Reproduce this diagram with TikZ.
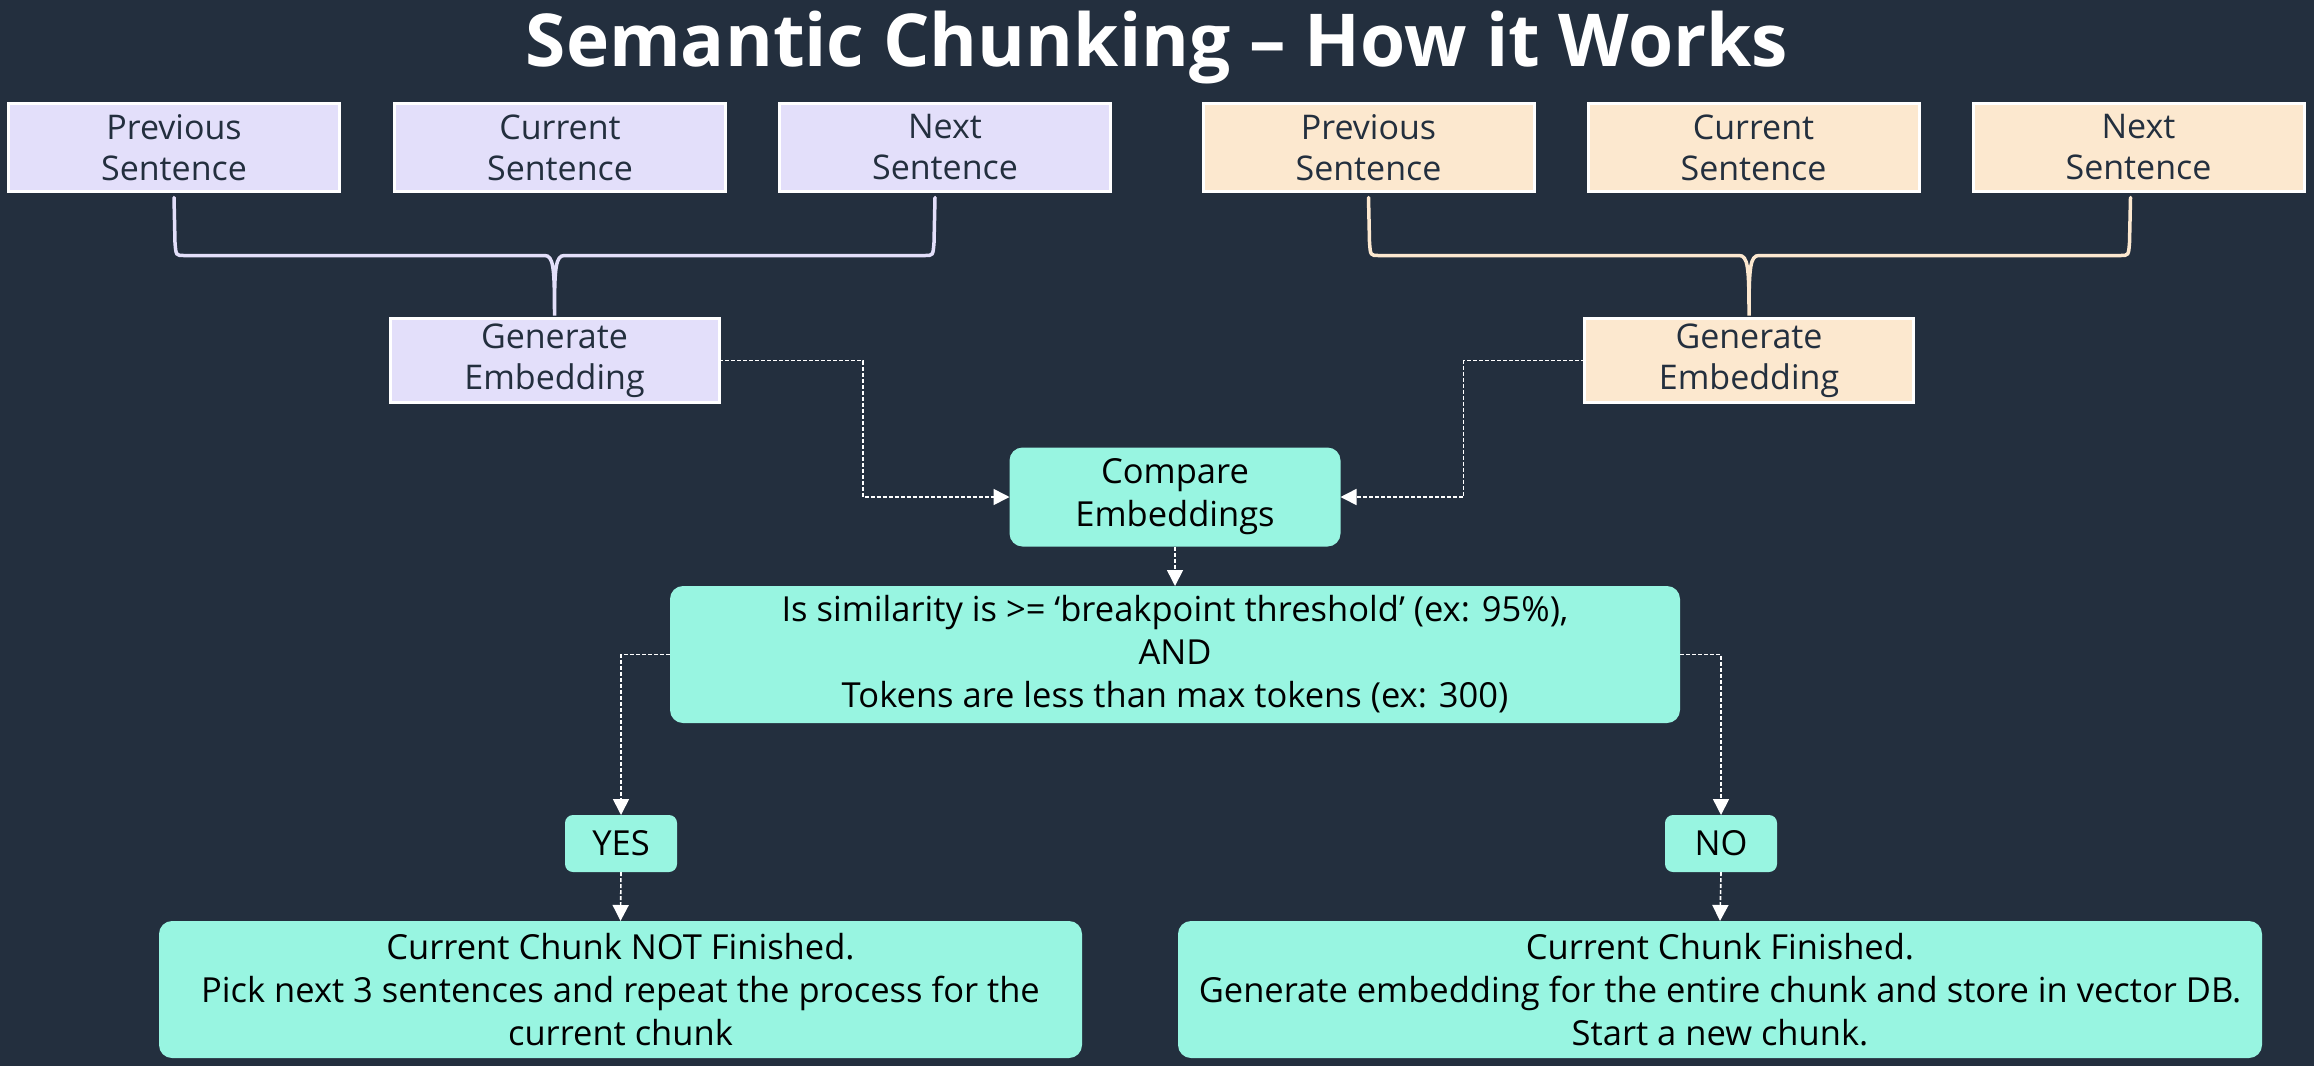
\documentclass[tikz,border=0pt]{standalone}
\usepackage{fontspec}
\setmainfont{Open Sans}
\usetikzlibrary{arrows.meta,calc}
\definecolor{bgc}{HTML}{232F3E}
\definecolor{lav}{HTML}{E3DFFA}
\definecolor{peach}{HTML}{FCE8CF}
\definecolor{teal}{HTML}{98F5E1}
\begin{document}
\begin{tikzpicture}[x=1pt,y=-1pt,
  sent/.style={draw=white,line width=3pt,inner sep=0pt,outer sep=0pt,align=center,
    text=bgc,font=\fontsize{34}{41}\selectfont},
  tealbox/.style={fill=teal,rounded corners=13pt,inner sep=0pt,outer sep=0pt,align=center,
    text=black,font=\fontsize{34.5}{43}\selectfont},
  dashc/.style={draw=white,line width=1.6pt,dash pattern=on 4pt off 2pt},
  arr/.style={dashc,-{Triangle[length=16pt,width=16pt,fill=white]}},
  bracel/.style={line width=3.5pt,line cap=round}
]
\fill[bgc] (0,0) rectangle (2314,1066);
\useasboundingbox (0,0) rectangle (2314,1066);

\node[text=white,font=\bfseries\fontsize{73}{80}\selectfont,anchor=base] (title) at (1157,66) {Semantic Chunking -- How it Works};

% left group
\node[sent,fill=lav,minimum width=331pt,minimum height=88pt] (pL) at (174,147.5) {Previous\\Sentence};
\node[sent,fill=lav,minimum width=331pt,minimum height=88pt] (cL) at (560,147.5) {Current\\Sentence};
\node[sent,fill=lav,minimum width=331pt,minimum height=88pt] (nL) at (945,147.5) {Next\\Sentence};
\node[sent,fill=lav,minimum width=329pt,minimum height=84pt] (gL) at (554.5,360.5) {Generate\\Embedding};

% right group
\node[sent,fill=peach,minimum width=331pt,minimum height=88pt] (pR) at (1368.5,147.5) {Previous\\Sentence};
\node[sent,fill=peach,minimum width=331pt,minimum height=88pt] (cR) at (1753.5,147.5) {Current\\Sentence};
\node[sent,fill=peach,minimum width=331pt,minimum height=88pt] (nR) at (2138.5,147.5) {Next\\Sentence};
\node[sent,fill=peach,minimum width=329pt,minimum height=84pt] (gR) at (1749,360.5) {Generate\\Embedding};

% braces
\coordinate (bl1) at ($(pL.south)+(0,6)$);
\coordinate (bl2) at ($(nL.south)+(-10,6)$);
\coordinate (bl3) at ($(gL.north)+(0,-3)$);
\draw[bracel,draw=lav] (bl1) -- ($(bl1)+(1,45)$) .. controls ($(bl1)+(2,58)$) .. ($(bl1)+(10,58)$)
  -- ($(bl3|-bl1)+(-10,58)$) .. controls ($(bl3|-bl1)+(-1,58)$) and ($(bl3|-bl1)+(0,70)$) .. (bl3)
  .. controls ($(bl3|-bl1)+(0,70)$) and ($(bl3|-bl1)+(1,58)$) .. ($(bl3|-bl1)+(10,58)$)
  -- ($(bl2)+(-10,58)$) .. controls ($(bl2)+(-2,58)$) .. ($(bl2)+(-1,45)$) -- (bl2);

\coordinate (br1) at ($(pR.south)+(0,6)$);
\coordinate (br2) at ($(nR.south)+(-8,6)$);
\coordinate (br3) at ($(gR.north)+(0,-3)$);
\draw[bracel,draw=peach] (br1) -- ($(br1)+(1,45)$) .. controls ($(br1)+(2,58)$) .. ($(br1)+(10,58)$)
  -- ($(br3|-br1)+(-10,58)$) .. controls ($(br3|-br1)+(-1,58)$) and ($(br3|-br1)+(0,70)$) .. (br3)
  .. controls ($(br3|-br1)+(0,70)$) and ($(br3|-br1)+(1,58)$) .. ($(br3|-br1)+(10,58)$)
  -- ($(br2)+(-10,58)$) .. controls ($(br2)+(-2,58)$) .. ($(br2)+(-1,45)$) -- (br2);

% teal boxes
\node[tealbox,minimum width=331pt,minimum height=99pt] (cmp) at (1175,497) {Compare\\Embeddings};
\node[tealbox,minimum width=1010pt,minimum height=137pt] (dec) at (1175,654.5)
  {Is similarity is >= ‘breakpoint threshold’ (ex: 95\%),\\AND\\Tokens are less than max tokens (ex: 300)};
\node[tealbox,rounded corners=8pt,minimum width=112pt,minimum height=57pt] (yes) at (621,843.5) {YES};
\node[tealbox,rounded corners=8pt,minimum width=112pt,minimum height=57pt] (no) at (1721,843.5) {NO};
\node[tealbox,minimum width=923pt,minimum height=137pt] (bl) at (620.5,989.5)
  {Current Chunk NOT Finished.\\Pick next 3 sentences and repeat the process for the\\current chunk};
\node[tealbox,minimum width=1084pt,minimum height=137pt] (br) at (1720,989.5)
  {Current Chunk Finished.\\Generate embedding for the entire chunk and store in vector DB.\\Start a new chunk.};

% connectors
\draw[arr] (gL.east) -- ++(144,0) |- (cmp.west);
\draw[arr] (gR.west) -- ++(-121,0) |- (cmp.east);
\draw[arr] (cmp.south) -- (dec.north);
\draw[arr] (dec.west) -| (yes.north);
\draw[arr] (dec.east) -| (no.north);
\draw[arr] (yes.south) -- (bl.north);
\draw[arr] (no.south) -- (br.north);
\end{tikzpicture}
\end{document}
